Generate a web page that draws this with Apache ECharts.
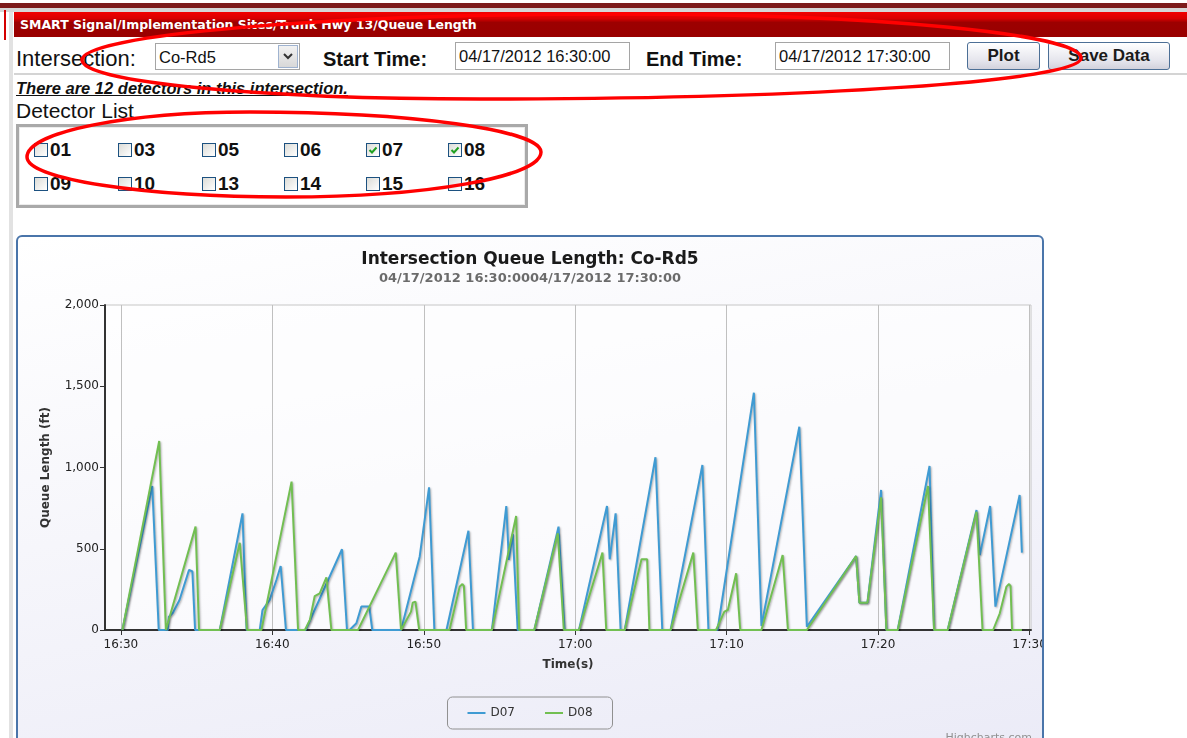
<!DOCTYPE html>
<html>
<head>
<meta charset="utf-8">
<script src="https://cdn.jsdelivr.net/npm/echarts@6/dist/echarts.min.js"></script>
<style>
  html, body { margin: 0; padding: 0; width: 1187px; height: 738px; overflow: hidden; background: #fff; font-family: 'Liberation Sans', Arial, sans-serif; }
  .abs { position: absolute; }
  #topline { left: 0; top: 3px; width: 1187px; height: 5px; background: #7d1b1b; }
  #topgray { left: 0; top: 8px; width: 1187px; height: 4px; background: #d6d6d6; }
  #leftred { left: 4px; top: 10px; width: 2px; height: 30px; background: #d40000; }
  #leftgray { left: 9px; top: 12px; width: 4px; height: 730px; background: #e2e2e2; }
  #header { left: 14px; top: 12px; width: 1173px; height: 25px; box-sizing: border-box; padding-left: 6px;
    background: linear-gradient(#f20000 0%, #d80000 26%, #9c0000 42%, #990000 100%);
    color: #fff; font: bold 12.5px 'DejaVu Sans', sans-serif; line-height: 25px; }
  .lbl { font-size: 22px; line-height: 28px; color: #111; }
  .lblb { font-size: 20px; line-height: 28px; color: #111; font-weight: bold; }
  .box { border: 1px solid #a5a5a5; background: #fff; box-sizing: border-box; font-size: 16.5px; line-height: 26px; padding-left: 3px; color: #111; }
  .btn { border: 1px solid #4c6f96; border-radius: 3px; box-sizing: border-box; background: linear-gradient(#ffffff, #e4e4ec 70%, #d2d2dc);
    font-weight: bold; font-size: 17px; line-height: 26px; text-align: center; color: #1a1a1a; }
  #rule { left: 14px; top: 73px; width: 1173px; height: 2px; background: #d4d4d4; }
  #note { left: 16px; top: 78px; font-size: 16.5px; line-height: 20px; font-weight: bold; font-style: italic; text-decoration: underline; color: #111; }
  #detlist { left: 16px; top: 99px; font-size: 21px; line-height: 24px; color: #111; }
  #detbox { left: 16px; top: 124px; width: 512px; height: 84px; box-sizing: border-box; border: 3px solid #a9a9a9; box-shadow: inset 0 0 0 1px #ececec; background: #fff; }
  .cb { width: 14px; height: 14px; box-sizing: border-box; border: 1px solid #1c5180; background: linear-gradient(135deg, #dcdcd7, #ffffff); }
  .cbl { font-size: 19px; line-height: 20px; color: #111; font-weight: bold; }
  #chartwrap { left: 16px; top: 235px; width: 1028px; height: 520px; box-sizing: border-box; border: 2px solid #4a75aa; border-radius: 6px; overflow: hidden;
    background: linear-gradient(170deg, #ffffff 0%, #f6f6fb 45%, #ebebf7 100%); }
  #chart { width: 1024px; height: 516px; }
  #marks { left: 0; top: 0; width: 1187px; height: 738px; pointer-events: none; z-index: 10; }
</style>
</head>
<body>
<div id="topline" class="abs"></div>
<div id="topgray" class="abs"></div>
<div id="leftred" class="abs"></div>
<div id="leftgray" class="abs"></div>
<div id="header" class="abs">SMART Signal/Implementation Sites/Trunk Hwy 13/Queue Length</div>

<div class="abs lbl" style="left:16px;top:45px;">Intersection:</div>
<div class="abs box" style="left:155px;top:43px;width:145px;height:27px;">Co-Rd5</div>
<div class="abs" style="left:278px;top:45px;width:20px;height:23px;box-sizing:border-box;border:1px solid #9fb3d0;background:linear-gradient(#f2f2f2,#d8d8d8);">
  <svg width="18" height="21" style="display:block"><path d="M5,8 L9,12 L13,8" stroke="#333" stroke-width="2" fill="none"/></svg>
</div>
<div class="abs lblb" style="left:323px;top:45px;">Start Time:</div>
<div class="abs box" style="left:455px;top:42px;width:175px;height:28px;">04/17/2012 16:30:00</div>
<div class="abs lblb" style="left:646px;top:45px;">End Time:</div>
<div class="abs box" style="left:775px;top:42px;width:175px;height:28px;">04/17/2012 17:30:00</div>
<div class="abs btn" style="left:967px;top:42px;width:73px;height:28px;">Plot</div>
<div class="abs btn" style="left:1048px;top:42px;width:122px;height:28px;">Save Data</div>
<div id="rule" class="abs"></div>

<div id="note" class="abs">There are 12 detectors in this intersection.</div>
<div id="detlist" class="abs">Detector List</div>
<div id="detbox" class="abs"></div>
<div id="checks"></div>

<div id="chartwrap" class="abs"><div id="chart"></div></div>

<svg id="marks" class="abs">
  <path d="M82,60 C82,35 323,14 620,14 C875,14 1081,34 1081,58 C1081,81 812,99 480,99 C260,99 82,82 82,60 Z"
        fill="none" stroke="#f00" stroke-width="3.5"/>
  <path d="M27,157 C27,132 127,112 250,112 C411,112 541,130 541,152 C541,177 427,197 286,197 C143,197 27,179 27,157 Z"
        fill="none" stroke="#f00" stroke-width="3.5"/>
</svg>

<script>
// detector check boxes
const detectors = ['01', '03', '05', '06', '07', '08', '09', '10', '13', '14', '15', '16']
const checked = ['07', '08']

// queue length data: [minutes after 16:30, queue length (ft)]
const d07 = [
  [0.1, 0], [2.07, 886], [2.5, 0], [3.1, 0], [3.17, 82], [3.43, 105], [3.87, 185], [4.5, 370], [4.6, 375], [4.72, 360], [4.9, 0],
  [6.53, 0], [8.03, 718], [8.3, 0], [9.17, 0], [9.35, 123], [9.83, 185], [10.27, 308], [10.55, 394], [10.65, 390], [10.9, 0],
  [12.2, 0], [14.6, 497], [14.93, 0], [15.1, 0], [15.55, 41], [15.88, 144], [16.4, 144], [16.6, 0],
  [18.5, 0], [19.73, 451], [20.35, 878], [20.7, 0], [21.5, 0], [22.95, 611], [23.25, 0],
  [24.5, 0], [25.45, 763], [25.62, 431], [25.88, 591], [26.2, 0], [27.3, 0], [28.9, 636], [29.3, 0],
  [30.25, 0], [32.1, 763], [32.28, 435], [32.67, 718], [33.0, 0], [33.27, 0], [35.3, 1063], [35.75, 0],
  [36.3, 0], [38.4, 1015], [38.8, 0], [39.4, 0], [41.8, 1460], [42.3, 25], [44.8, 1251], [45.3, 20],
  [48.55, 455], [48.77, 168], [49.3, 168], [50.2, 862], [50.55, 0], [51.3, 0], [53.4, 1009], [53.7, 0],
  [54.6, 0], [56.5, 738], [56.72, 461], [57.4, 763], [57.75, 144], [59.35, 831], [59.5, 476]
]
const d08 = [
  [0.1, 0], [2.53, 1163], [2.97, 0], [3.1, 0], [4.93, 636], [5.16, 0],
  [6.53, 0], [7.85, 537], [8.33, 0], [9.28, 0], [11.27, 913], [11.7, 0],
  [12.15, 0], [12.48, 62], [12.8, 209], [13.13, 226], [13.57, 324], [13.7, 320], [13.9, 0],
  [15.66, 0], [18.15, 476], [18.5, 0], [19.16, 113], [19.27, 168], [19.45, 175], [19.55, 168], [19.7, 0],
  [21.7, 0], [22.37, 267], [22.55, 283], [22.65, 270], [22.8, 0],
  [24.5, 0], [26.1, 702], [26.3, 0], [27.3, 0], [28.85, 595], [29.25, 0],
  [30.25, 0], [31.8, 476], [32.05, 0], [33.27, 0], [34.05, 308], [34.38, 435], [34.75, 435], [34.9, 0],
  [36.3, 0], [37.8, 476], [38.1, 0], [39.3, 0], [39.85, 113], [40.08, 123], [40.63, 349], [40.75, 345], [40.9, 0],
  [42.3, 0], [43.7, 461], [44.05, 0], [45.3, 0], [48.55, 455], [48.77, 168], [49.3, 168], [50.2, 816], [50.55, 0],
  [51.3, 0], [53.3, 886], [53.7, 0], [54.6, 0], [56.5, 728], [56.9, 0],
  [57.6, 0], [58.04, 103], [58.48, 267], [58.65, 283], [58.75, 270], [58.85, 0], [59.5, 0]
]

// x ticks every 10 minutes
const xTickMinutes = [0, 10, 20, 30, 40, 50, 60]
const xTickLabels = ['16:30', '16:40', '16:50', '17:00', '17:10', '17:20', '17:30']

// build check boxes
let colX = [34, 118, 202, 284, 366, 448]
let rowY = [143, 177]
let html = ''
for (let i = 0; i < detectors.length; i++) {
    let x = colX[i % 6]
    let y = rowY[Math.floor(i / 6)]
    let tick = checked.indexOf(detectors[i]) >= 0
        ? '<svg width="12" height="12" style="display:block"><path d="M2.5,6 L5,8.5 L9.5,3.5" stroke="#21a121" stroke-width="2" fill="none"/></svg>'
        : ''
    html += '<div class="abs cb" style="left:' + x + 'px;top:' + y + 'px;">' + tick + '</div>'
    html += '<div class="abs cbl" style="left:' + (x + 16) + 'px;top:' + (y - 3) + 'px;">' + detectors[i] + '</div>'
}
document.getElementById('checks').innerHTML = html

let lineShadow = {shadowColor: 'rgba(0,0,0,0.3)', shadowBlur: 2, shadowOffsetX: 1, shadowOffsetY: 1}

let myChart = echarts.init(document.getElementById('chart'))
myChart.setOption({
    animation: false,
    textStyle: {fontFamily: 'DejaVu Sans'},
    title: {
        text: 'Intersection Queue Length: Co-Rd5',
        subtext: '04/17/2012 16:30:0004/17/2012 17:30:00',
        left: 'center',
        top: 9,
        itemGap: 4,
        textStyle: {fontSize: 17, fontWeight: 'bold', color: '#1a1a1a', fontFamily: 'DejaVu Sans'},
        subtextStyle: {fontSize: 13, fontWeight: 'bold', color: '#6b6b6b', fontFamily: 'DejaVu Sans'}
    },
    legend: {
        left: 'center',
        top: 460,
        padding: [9, 20],
        itemGap: 30,
        itemWidth: 18,
        itemHeight: 2,
        icon: 'rect',
        borderColor: '#909090',
        borderWidth: 1,
        borderRadius: 5,
        textStyle: {fontSize: 12, color: '#333', fontFamily: 'DejaVu Sans', lineHeight: 14}
    },
    grid: {
        left: 87, right: 11, top: 68, height: 325,
        outerBoundsMode: 'none',
        show: true,
        borderColor: '#c6c6c6',
        borderWidth: 1,
        backgroundColor: 'rgba(255,255,255,0.6)'
    },
    xAxis: {
        type: 'value',
        min: -1.05,
        max: 60.1,
        name: 'Time(s)',
        nameLocation: 'middle',
        nameGap: 29,
        nameTextStyle: {fontSize: 12, fontWeight: 'bold', color: '#333', fontFamily: 'DejaVu Sans'},
        axisLine: {show: true, onZero: false, lineStyle: {color: '#333', width: 2}},
        axisTick: {show: true, customValues: xTickMinutes, length: 5, lineStyle: {color: '#333'}},
        axisLabel: {
            customValues: xTickMinutes,
            margin: 9,
            fontSize: 12,
            color: '#222',
            fontFamily: 'DejaVu Sans',
            formatter: function (v) {
                return xTickLabels[xTickMinutes.indexOf(Math.round(v))]
            }
        },
        splitLine: {show: true, lineStyle: {color: '#c0c0c0', width: 1}}
    },
    yAxis: {
        type: 'value',
        min: 0,
        max: 2000,
        interval: 500,
        name: 'Queue Length (ft)',
        nameLocation: 'middle',
        nameGap: 53,
        nameTextStyle: {fontSize: 12, fontWeight: 'bold', color: '#333', fontFamily: 'DejaVu Sans'},
        axisLine: {show: true, onZero: false, lineStyle: {color: '#333', width: 2}},
        axisTick: {show: true, length: 5, lineStyle: {color: '#333'}},
        axisLabel: {
            fontSize: 12,
            color: '#222',
            margin: 6,
            fontFamily: 'DejaVu Sans',
            formatter: function (v) {
                return v.toLocaleString('en-US')
            }
        },
        splitLine: {show: false}
    },
    series: [
        {
            name: 'D07',
            type: 'line',
            data: d07,
            symbol: 'none',
            color: '#3f9bd3',
            lineStyle: Object.assign({width: 2, color: '#3f9bd3'}, lineShadow)
        },
        {
            name: 'D08',
            type: 'line',
            data: d08,
            symbol: 'none',
            color: '#72bf52',
            lineStyle: Object.assign({width: 2, color: '#72bf52'}, lineShadow)
        }
    ],
    graphic: [
        {
            type: 'text',
            right: 10,
            top: 496,
            style: {text: 'Highcharts.com', fill: '#909090', font: '11px "DejaVu Sans"'}
        }
    ]
})
</script>
</body>
</html>
